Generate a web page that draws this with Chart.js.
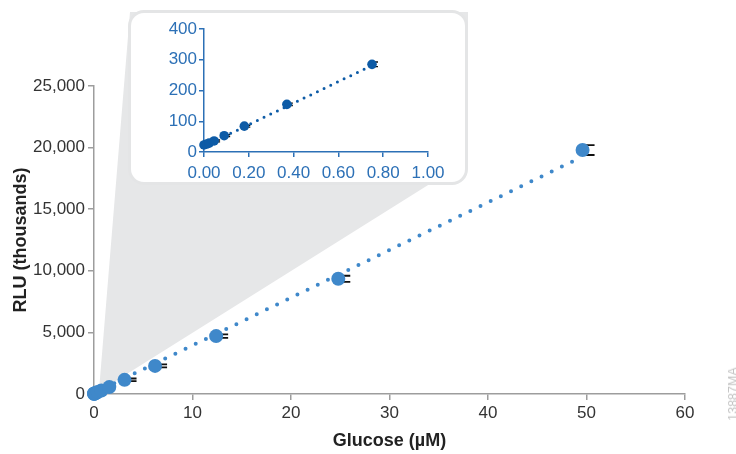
<!DOCTYPE html>
<html>
<head>
<meta charset="utf-8">
<script src="https://cdn.jsdelivr.net/npm/chart.js@4.4.1/dist/chart.umd.min.js"></script>
<style>
  html, body { margin: 0; padding: 0; background: #fff; }
  #wrap { position: relative; width: 736px; height: 454px; overflow: hidden; }
  #mainChart { position: absolute; left: 0; top: 0; }
  #insetBox {
    position: absolute; left: 128px; top: 10px; width: 340px; height: 175px;
    box-sizing: border-box; border: 3px solid #e4e5e6; border-radius: 16px; background: #fff;
  }
  #insetChart { position: absolute; left: 131px; top: 13px; }
  #code {
    position: absolute; left: 733px; top: 394px;
    transform: translate(-50%, -50%) rotate(-90deg);
    white-space: nowrap; font: 12.5px 'Liberation Sans', Arial, sans-serif; color: #c4c4c4;
  }
</style>
</head>
<body>
<div id="wrap">
  <canvas id="mainChart" width="736" height="454"></canvas>
  <div id="insetBox"></div>
  <canvas id="insetChart" width="334" height="169"></canvas>
  <div id="code">13887MA</div>
</div>
<script>
// ── data ──
const glucose = [0, 0.012, 0.023, 0.045, 0.09, 0.18, 0.37, 0.75, 1.55, 3.1, 6.2, 12.4, 24.8, 49.6];
const rlu     = [23, 26, 29, 36, 53, 84, 155, 285, 560, 1150, 2280, 4700, 9350, 19800];
const rluErr  = [3, 3, 3, 3, 3, 3, 4, 7.5, 60, 110, 120, 140, 250, 400];

// dotted fit lines (end points)
const fitMainX  = [0, 49.2];
const fitMainY  = [76, 19116];
const fitInsetX = [0, 0.74];
const fitInsetY = [19, 278];

// tick labels
const xTicksMain  = [0, 10, 20, 30, 40, 50, 60];
const yTicksMain  = [0, 5000, 10000, 15000, 20000, 25000];
const xTicksInset = [0, 0.2, 0.4, 0.6, 0.8, 1.0];
const yTicksInset = [0, 100, 200, 300, 400];

const MAIN_BLUE = '#3f88ca';
const INSET_BLUE = '#0d5ba6';
const INSET_AXIS = '#2c70b6';
const AXIS_GREY = '#9d9d9d';

Chart.defaults.font.family = "'Liberation Sans', Arial, sans-serif";
Chart.defaults.animation = false;

const points = glucose.map((g, i) => ({ x: g, y: rlu[i] }));
const insetIdx = glucose.map((g, i) => i).filter(i => glucose[i] <= xTicksInset[xTicksInset.length - 1]);
const insetPoints = insetIdx.map(i => points[i]);
const insetErr = insetIdx.map(i => rluErr[i]);

const fixedTicks = arr => scale => { scale.ticks = arr.map(v => ({ value: v })); };

// black error caps drawn just right of each marker
const errorBars = {
  id: 'errorBars',
  beforeDatasetsDraw(chart, args, opts) {
    const ds = chart.data.datasets[0];
    const { ctx, scales: { x, y } } = chart;
    ctx.save();
    ctx.strokeStyle = opts.color;
    ctx.lineWidth = opts.width;
    ds.data.forEach((p, i) => {
      const e = ds.errors[i];
      const px = x.getPixelForValue(p.x);
      const top = y.getPixelForValue(p.y + e);
      const bot = y.getPixelForValue(p.y - e);
      if (bot - top < opts.minGap) return;
      ctx.beginPath();
      ctx.moveTo(px + opts.capFrom, top); ctx.lineTo(px + opts.capTo, top);
      ctx.moveTo(px + opts.capFrom, bot); ctx.lineTo(px + opts.capTo, bot);
      ctx.moveTo(px + opts.stem, top); ctx.lineTo(px + opts.stem, bot);
      ctx.stroke();
    });
    ctx.restore();
  }
};

// grey callout wedge from the zoomed corner up to the inset box
const zoomWedge = {
  id: 'zoomWedge',
  beforeDraw(chart) {
    const { ctx, scales: { x, y } } = chart;
    const box = document.getElementById('insetBox');
    const ax = x.getPixelForValue(xTicksInset[xTicksInset.length - 1] / 2);
    const ay = y.getPixelForValue(yTicksInset[yTicksInset.length - 1] / 2);
    const l = box.offsetLeft + 2, t = box.offsetTop + 2;
    const r = box.offsetLeft + box.offsetWidth, b = box.offsetTop + box.offsetHeight - 25;
    ctx.save();
    ctx.fillStyle = '#e6e7e8';
    ctx.beginPath();
    ctx.moveTo(ax, ay);
    ctx.lineTo(l, t);
    ctx.lineTo(r, t);
    ctx.lineTo(r, b);
    ctx.closePath();
    ctx.fill();
    ctx.restore();
  }
};

new Chart(document.getElementById('mainChart'), {
  type: 'scatter',
  data: {
    datasets: [
      {
        data: points,
        errors: rluErr,
        backgroundColor: MAIN_BLUE,
        borderWidth: 0,
        pointRadius: 7,
        clip: false
      },
      {
        data: fitMainX.map((v, i) => ({ x: v, y: fitMainY[i] })),
        showLine: true,
        borderColor: MAIN_BLUE,
        borderWidth: 4,
        borderDash: [0, 11.3],
        borderCapStyle: 'round',
        pointRadius: 0,
        clip: false
      }
    ]
  },
  options: {
    responsive: false,
    layout: { padding: { left: 0, top: 86, right: 51, bottom: 0 } },
    plugins: {
      legend: { display: false },
      tooltip: { enabled: false },
      errorBars: { color: '#111', width: 1.8, capFrom: -3, capTo: 12, stem: 3, minGap: 2 }
    },
    scales: {
      x: {
        type: 'linear', min: 0, max: 60,
        afterBuildTicks: fixedTicks(xTicksMain),
        afterFit: s => { s.height = 60; },
        grid: { drawOnChartArea: false, drawTicks: true, tickLength: 6, color: AXIS_GREY, lineWidth: 1.5 },
        border: { color: AXIS_GREY, width: 1.5 },
        ticks: { color: '#333', font: { size: 17 }, padding: 3, maxRotation: 0 },
        title: { display: true, text: 'Glucose (µM)', color: '#222', font: { size: 18, weight: 'bold' }, padding: { top: 0, bottom: 2 } }
      },
      y: {
        type: 'linear', min: 0, max: 25000,
        afterBuildTicks: fixedTicks(yTicksMain),
        afterFit: s => { s.width = 94; },
        grid: { drawOnChartArea: false, drawTicks: true, tickLength: 6, color: AXIS_GREY, lineWidth: 1.5 },
        border: { color: AXIS_GREY, width: 1.5 },
        ticks: { color: '#333', font: { size: 17 }, padding: 3, callback: v => v.toLocaleString('en-US') },
        title: { display: true, text: 'RLU (thousands)', color: '#222', font: { size: 18, weight: 'bold' }, padding: { top: 10, bottom: 0 } }
      }
    }
  },
  plugins: [zoomWedge, errorBars]
});

new Chart(document.getElementById('insetChart'), {
  type: 'scatter',
  data: {
    datasets: [
      {
        data: insetPoints,
        errors: insetErr,
        backgroundColor: INSET_BLUE,
        borderWidth: 0,
        pointRadius: 4.8,
        clip: false
      },
      {
        data: fitInsetX.map((v, i) => ({ x: v, y: fitInsetY[i] })),
        showLine: true,
        borderColor: INSET_BLUE,
        borderWidth: 3,
        borderDash: [0, 7.4],
        borderCapStyle: 'round',
        pointRadius: 0,
        clip: false
      }
    ]
  },
  options: {
    responsive: false,
    layout: { padding: { left: 0, top: 16, right: 37, bottom: 0 } },
    plugins: {
      legend: { display: false },
      tooltip: { enabled: false },
      errorBars: { color: '#111', width: 1.4, capFrom: -2, capTo: 6, stem: 2, minGap: 0 }
    },
    scales: {
      x: {
        type: 'linear', min: 0, max: 1,
        afterBuildTicks: fixedTicks(xTicksInset),
        afterFit: s => { s.height = 30; },
        grid: { drawOnChartArea: false, drawTicks: true, tickLength: 5, color: INSET_AXIS, lineWidth: 1.5 },
        border: { color: INSET_AXIS, width: 1.5 },
        ticks: { color: INSET_AXIS, font: { size: 17 }, padding: 6, maxRotation: 0, callback: v => v.toFixed(2) }
      },
      y: {
        type: 'linear', min: 0, max: 400,
        afterBuildTicks: fixedTicks(yTicksInset),
        afterFit: s => { s.width = 73; },
        grid: { drawOnChartArea: false, drawTicks: true, tickLength: 5, color: INSET_AXIS, lineWidth: 1.5 },
        border: { color: INSET_AXIS, width: 1.5 },
        ticks: { color: INSET_AXIS, font: { size: 17 }, padding: 2 }
      }
    }
  },
  plugins: [errorBars]
});
</script>
</body>
</html>
